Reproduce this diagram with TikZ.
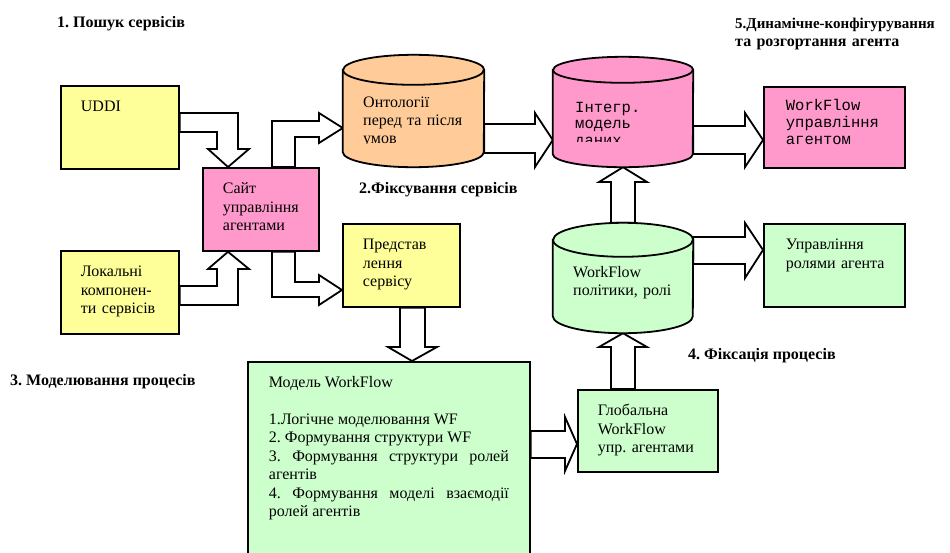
\documentclass[tikz,border=0pt]{standalone}
\usepackage{fontspec}
\setmainfont{Liberation Serif}
\setmonofont{Liberation Mono}
\usepackage{tikz}
\usetikzlibrary{backgrounds}
\definecolor{cyel}{RGB}{255,255,153}
\definecolor{cpink}{RGB}{255,153,204}
\definecolor{corange}{RGB}{255,204,153}
\definecolor{cgreen}{RGB}{204,255,204}
\newcommand{\fbody}{\fontsize{16}{18.5}\selectfont}
\newcommand{\fmono}{\ttfamily\fontsize{15.5}{17}\selectfont}
\newcommand{\drawcyl}[4]{%
  \draw[cylline, fill=#2] ([yshift=-#4]#1.north west)
    -- ([yshift=#4]#1.south west)
    arc[start angle=180, end angle=360, x radius=#3, y radius=#4]
    -- ([yshift=-#4]#1.north east)
    arc[start angle=0, end angle=180, x radius=#3, y radius=#4] -- cycle;
  \draw[cylline] ([yshift=-#4]#1.north west)
    arc[start angle=180, end angle=360, x radius=#3, y radius=#4];}
\tikzset{
  box/.style   ={rectangle, draw, line width=1.8pt, anchor=north west, align=left,
                 inner xsep=20pt, inner ysep=15pt, text height=11pt, font=\fbody},
  cylbox/.style={rectangle, inner sep=0pt},
  cylline/.style={line width=1.8pt},
  ctxt/.style  ={anchor=north west, inner sep=0pt, text height=11pt, align=left},
  blk/.style   ={draw, fill=white, line width=1.8pt, line join=miter},
  ttl/.style   ={anchor=base west, inner sep=0pt, font=\fbody\bfseries}
}
\frenchspacing

\begin{document}
\begin{tikzpicture}[x=1pt, y=-1pt]
\useasboundingbox (0,0) rectangle (950,552);

\node[box, fill=cyel, text width=78pt, text depth=42pt] (uddi) at (60,85) {UDDI};
\node[box, fill=cpink, text width=76pt, text depth=42pt] (site) at (202,167)
  {Сайт\\управління\\агентами};
\node[box, fill=cyel, text width=78pt, text depth=42pt] (local) at (60,250)
  {Локальні\\компонен-\\ти сервісів};
\node[box, fill=cyel, text width=77pt, text depth=42pt] (pres) at (342,223)
  {Представ\\лення\\сервісу};
\node[box, fill=cpink, font=\fmono, inner xsep=22pt, inner ysep=13pt, text width=97pt,
  text depth=44pt] (wfagent) at (763,86) {WorkFlow\\управління\\агентом};
\node[box, fill=cgreen, inner xsep=22pt, text width=97pt, text depth=42pt] (roles)
  at (763,223) {Управління\\\mbox{ролями агента}};
\node[box, fill=cgreen, text width=100pt, text depth=41pt] (glob) at (577,389)
  {Глобальна\\WorkFlow\\\mbox{упр. агентами}};
\node[box, fill=cgreen, align=justify, inner xsep=21pt, inner ysep=14.3pt,
  text width=240pt, text depth=200pt] (model) at (247,361)
  {Модель WorkFlow\par\vspace{18.5pt}
   1.Логічне моделювання WF\par
   2. Формування структури WF\par
   3. Формування структури ролей\linebreak агентів\par
   4. Формування моделі взаємодії\linebreak ролей агентів};

\node[cylbox, minimum width=141pt, minimum height=112pt] (ont) at (413.5,111) {};
\node[cylbox, minimum width=140pt, minimum height=110pt] (intm) at (623,112) {};
\node[cylbox, minimum width=140pt, minimum height=110pt] (wfpol) at (623,278) {};
\drawcyl{ont}{corange}{70.5pt}{15pt}
\drawcyl{intm}{cpink}{70pt}{13pt}
\drawcyl{wfpol}{cgreen}{70pt}{17pt}

\begin{scope}
\clip (343,40) rectangle (484,143.5);
\node[ctxt, font=\fontsize{16}{18}\selectfont, text width=115pt] (ontTxt) at (363,96.3)
  {Онтології\\перед та після\\умов};
\end{scope}
\begin{scope}
\clip (553,40) rectangle (693,141);
\node[ctxt, font=\ttfamily\fontsize{15.5}{16.5}\selectfont, text width=110pt] (intmTxt)
  at (575,101) {Інтегр.\\модель\\даних};
\end{scope}
\node[ctxt, font=\fontsize{16}{18.3}\selectfont, text width=115pt] (wfpolTxt) at (573,266)
  {WorkFlow\\політики, ролі};

\node[ttl] (lab1) at (57,27.5) {1. Пошук сервісів};
\node[ttl] (lab2) at (359,193.5) {2.Фіксування сервісів};
\node[ttl] (lab3) at (10,385.5) {3. Моделювання процесів};
\node[ttl] (lab4) at (688,359.5) {4. Фіксація процесів};
\node[ttl, anchor=north west, text height=11pt, text width=230pt, align=left,
  font=\fontsize{16}{18}\selectfont\bfseries] (lab5) at (735,17.3)
  {\mbox{\fontsize{15}{18}\selectfont 5.Динамічне-конфігурування}\\та розгортання агента};

\begin{scope}[on background layer]
\draw[blk] (uddi.east |- 0,113) -- (238,113) -- (238,149) -- (249,149)
  -- (site.north -| 228,0) -- (208,149) -- (217,149) -- (217,132)
  -- (uddi.east |- 0,132) -- cycle;
\draw[blk] (local.east |- 0,305) -- (238,305) -- (238,269) -- (249,269)
  -- (site.south -| 228,0) -- (208,269) -- (217,269) -- (217,286)
  -- (local.east |- 0,286) -- cycle;
\draw[blk] (site.north -| 272,0) -- (272,121) -- (319,121) -- (319,113)
  -- (ont.west |- 0,128) -- (319,143) -- (319,137) -- (295,137)
  -- (site.north -| 295,0) -- cycle;
\draw[blk] (site.south -| 272,0) -- (272,297) -- (319,297) -- (319,305)
  -- (pres.west |- 0,290) -- (319,275) -- (319,282) -- (295,282)
  -- (site.south -| 295,0) -- cycle;
\draw[blk] (ont.east |- 0,124) -- (535,124) -- (535,113) -- (intm.west |- 0,140)
  -- (535,167) -- (535,153) -- (ont.east |- 0,153) -- cycle;
\draw[blk] (intm.east |- 0,126) -- (745,126) -- (745,113) -- (wfagent.west |- 0,140)
  -- (745,167) -- (745,154) -- (intm.east |- 0,154) -- cycle;
\draw[blk] (wfpol.east |- 0,237) -- (745,237) -- (745,223) -- (roles.west |- 0,250)
  -- (745,278) -- (745,264) -- (wfpol.east |- 0,264) -- cycle;
\draw[blk] (wfpol.north -| 611,0) -- (611,182) -- (599,182) -- (intm.south -| 623,0)
  -- (647,182) -- (635,182) -- (wfpol.north -| 635,0) -- cycle;
\draw[blk] (glob.north -| 611,0) -- (611,347) -- (599,347) -- (wfpol.south -| 623,0)
  -- (647,347) -- (635,347) -- (glob.north -| 635,0) -- cycle;
\draw[blk] (pres.south -| 400,0) -- (400,347) -- (388,347) -- (model.north -| 412,0)
  -- (437,347) -- (425,347) -- (pres.south -| 425,0) -- cycle;
\draw[blk] (model.east |- 0,431) -- (565,431) -- (565,417) -- (glob.west |- 0,444)
  -- (565,471) -- (565,458) -- (model.east |- 0,458) -- cycle;
\end{scope}
\end{tikzpicture}
\end{document}
